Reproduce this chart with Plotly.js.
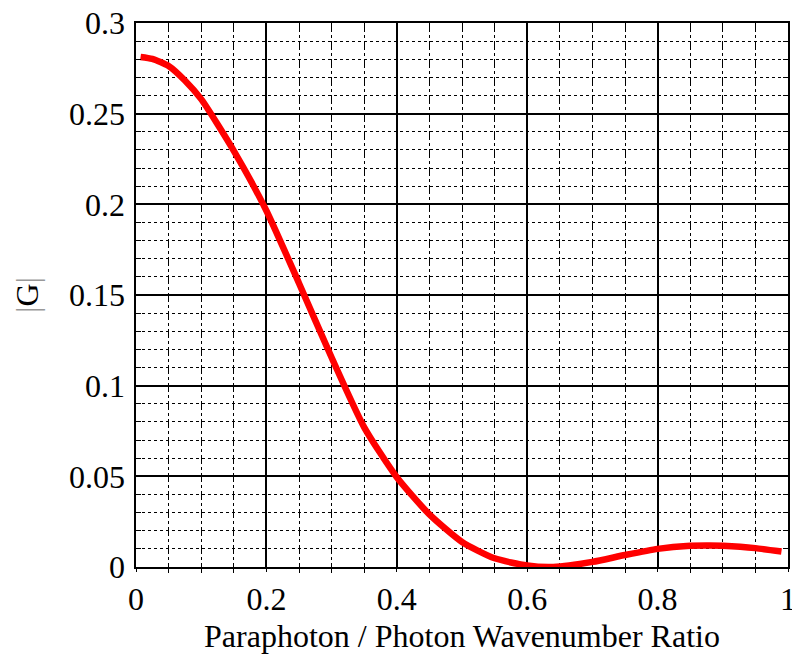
<!DOCTYPE html>
<html>
<head>
<meta charset="utf-8">
<script src="https://cdn.plot.ly/plotly-3.0.1.min.js"></script>
<style>html,body{margin:0;padding:0;background:#fff;}#chart{width:792px;height:654px;}</style>
</head>
<body>
<div id="chart"></div>
<script>
const ratio = [0.007, 0.025, 0.05, 0.075, 0.1, 0.15, 0.2, 0.25, 0.3, 0.35, 0.4, 0.45, 0.5, 0.55, 0.6, 0.64, 0.7, 0.75, 0.8, 0.85, 0.88, 0.9, 0.95, 0.99];
const absG  = [0.2813, 0.2802, 0.2763, 0.2683, 0.258, 0.2295, 0.1965, 0.1565, 0.1155, 0.077, 0.0495, 0.029, 0.0138, 0.0048, 0.0008, 0.0, 0.0028, 0.0066, 0.0100, 0.0117, 0.0119, 0.0117, 0.0104, 0.0085];
const xTickVals = [0, 0.2, 0.4, 0.6, 0.8, 1];
const xTickText = ['0', '0.2', '0.4', '0.6', '0.8', '1'];
const yTickVals = [0, 0.05, 0.1, 0.15, 0.2, 0.25, 0.3];
const yTickText = ['0', '0.05', '0.1', '0.15', '0.2', '0.25', '0.3'];
const xMinorVals = [0.05, 0.1, 0.15, 0.25, 0.3, 0.35, 0.45, 0.5, 0.55, 0.65, 0.7, 0.75, 0.85, 0.9, 0.95];
const yMinorVals = [0.01, 0.02, 0.03, 0.04, 0.06, 0.07, 0.08, 0.09, 0.11, 0.12, 0.13, 0.14, 0.16, 0.17, 0.18, 0.19, 0.21, 0.22, 0.23, 0.24, 0.26, 0.27, 0.28, 0.29];

const font = {family: 'Liberation Serif, Times New Roman, serif', size: 32, color: '#000'};

Plotly.newPlot('chart', [
  { // red curve on the main (fine-grid) subplot
    x: ratio, y: absG, type: 'scatter', mode: 'lines',
    line: {color: '#ff0000', width: 6.5, shape: 'spline', smoothing: 0.6},
    hoverinfo: 'skip', showlegend: false
  },
  { // same data, invisible, only to activate the overlaid major-grid axes
    x: ratio, y: absG, type: 'scatter', mode: 'lines',
    xaxis: 'x2', yaxis: 'y2', opacity: 0,
    line: {color: 'rgba(0,0,0,0)', width: 0},
    hoverinfo: 'skip', showlegend: false
  }
], {
  width: 792, height: 654,
  margin: {l: 136, r: 4, t: 23, b: 87},
  paper_bgcolor: '#fff', plot_bgcolor: '#fff',
  font: font,
  // fine grid (dotted / dash-dot), frame and small ticks
  xaxis: {
    range: [0, 1], tickmode: 'array', tickvals: xMinorVals,
    showticklabels: false,
    showgrid: true, gridcolor: '#000', gridwidth: 1, griddash: 'dashdot',
    showline: true, linecolor: '#000', linewidth: 2, mirror: true,
    ticks: 'outside', ticklen: 4, tickcolor: '#000',
    zeroline: false
  },
  yaxis: {
    range: [0, 0.3], tickmode: 'array', tickvals: yMinorVals,
    showticklabels: false,
    showgrid: true, gridcolor: '#000', gridwidth: 1, griddash: 'dot',
    showline: true, linecolor: '#000', linewidth: 2, mirror: 'allticks',
    ticks: 'inside', ticklen: 5, tickcolor: '#000',
    zeroline: false
  },
  // major grid, labels and titles
  xaxis2: {
    overlaying: 'x', anchor: 'y2', side: 'bottom',
    range: [0, 1], tickmode: 'array', tickvals: xTickVals, ticktext: xTickText,
    ticklabeloverflow: 'allow',
    showgrid: true, gridcolor: '#000', gridwidth: 2,
    showline: false, ticks: 'outside', ticklen: 4, tickcolor: '#000',
    zeroline: false, tickfont: font,
    title: {text: 'Paraphoton / Photon Wavenumber Ratio', font: font, standoff: 10}
  },
  yaxis2: {
    overlaying: 'y', anchor: 'x2', side: 'left',
    range: [0, 0.3], tickmode: 'array', tickvals: yTickVals, ticktext: yTickText,
    ticklabeloverflow: 'allow',
    showgrid: true, gridcolor: '#000', gridwidth: 2,
    showline: false, ticks: 'inside', ticklen: 5, tickcolor: '#000', ticklabelstandoff: 10,
    zeroline: false, tickfont: font,
    title: {text: '<span style="color:#999">|</span>G<span style="color:#999">|</span>', font: font, standoff: 20}
  }
}, {staticPlot: true, displayModeBar: false});
</script>
</body>
</html>
